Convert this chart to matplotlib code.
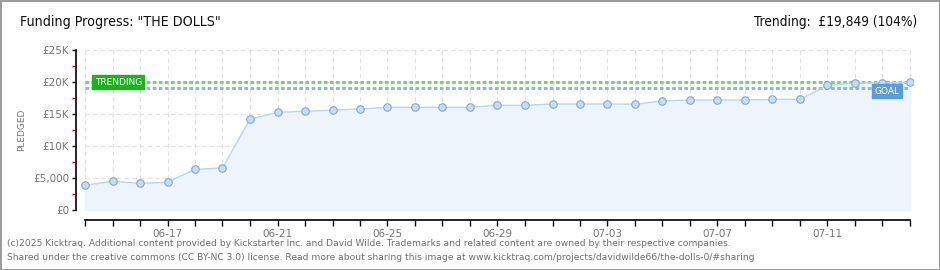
import matplotlib
matplotlib.use("Agg")
import matplotlib.pyplot as plt
from matplotlib.patches import Rectangle
import numpy as np

# daily pledged totals (GBP), 06-14 .. 07-14
dates = ["06-14", "06-15", "06-16", "06-17", "06-18", "06-19", "06-20", "06-21",
         "06-22", "06-23", "06-24", "06-25", "06-26", "06-27", "06-28", "06-29",
         "06-30", "07-01", "07-02", "07-03", "07-04", "07-05", "07-06", "07-07",
         "07-08", "07-09", "07-10", "07-11", "07-12", "07-13", "07-14"]
pledged = [3860, 4480, 4170, 4320, 6350, 6560, 14170, 15260,
           15420, 15600, 15780, 16040, 16040, 16040, 16040, 16350,
           16350, 16560, 16560, 16560, 16520, 17030, 17190, 17190,
           17190, 17290, 17290, 19480, 19840, 19840, 19950]
goal = 19085
trending = 19849
yticks = [0, 5000, 10000, 15000, 20000, 25000]
ytick_labels = ["£0", "£5,000", "£10K", "£15K", "£20K", "£25K"]

W, H = 940, 270
fig = plt.figure(figsize=(W / 100, H / 100), dpi=100)
fig.patch.set_facecolor("white")

# outer border
fig.add_artist(Rectangle((0.5 / W, 0.5 / H), 1 - 1.0 / W, 1 - 1.0 / H, transform=fig.transFigure,
                         fill=False, edgecolor="#8a8a8a", linewidth=1.2))

ax = fig.add_axes([76 / W, 60 / H, (913 - 76) / W, 160 / H])
x = np.arange(len(pledged))
ax.set_xlim(-9 / 27.5, 30 + 3 / 27.5)
ax.set_ylim(0, 25000)

# grid
for xi in x:
    ax.axvline(xi, color="#e2e2e2", lw=0.8, ls=(0, (4, 3)), zorder=0)
for yv in yticks[1:]:
    ax.plot([0, 30], [yv, yv], color="#e2e2e2", lw=0.8, ls=(0, (4, 3)), zorder=0)

ax.fill_between(x, pledged, 0, color="#eef4fc", zorder=1)
ax.plot(x, pledged, color="#b8d6f3", lw=1, zorder=3)
ax.plot(x, pledged, ls="none", marker="o", ms=5.4, mfc="#c4ddf7", mec="#8aa7c9", mew=0.8, zorder=4)

# trending / goal lines
ax.plot([0, 30], [trending + 150, trending + 150], color="#7dcf7d", lw=2.2, ls=(0, (1.2, 0.8)), zorder=2)
ax.plot([0, 30], [goal, goal], color="#8fb5e3", lw=2.2, ls=(0, (1.2, 0.8)), zorder=2)

ax.text(0.35, trending + 150, "TRENDING", color="white", fontsize=6.5, va="center", ha="left",
        family="DejaVu Sans", zorder=6,
        bbox=dict(boxstyle="square,pad=0.25", fc="#18b418", ec="#18b418"))
ax.text(28.7, goal - 500, "GOAL", color="white", fontsize=6.5, va="center", ha="left",
        family="DejaVu Sans", zorder=6,
        bbox=dict(boxstyle="square,pad=0.3", fc="#5e9bda", ec="#5e9bda"))

# spines
for s in ["top", "right"]:
    ax.spines[s].set_visible(False)
ax.spines["left"].set_bounds(0, 25000)
ax.spines["left"].set_linewidth(1.2)
ax.spines["bottom"].set_position(("outward", 7.5))
ax.spines["bottom"].set_bounds(0, 30)
ax.spines["bottom"].set_linewidth(1.2)

ax.set_yticks(yticks)
ax.set_yticklabels(ytick_labels, fontsize=7.5, color="#777777")
ax.set_yticks(np.arange(2500, 25000, 5000), minor=True)
ax.tick_params(axis="y", which="major", length=3, width=1, color="black", pad=2)
ax.tick_params(axis="y", which="minor", length=3, width=1, color="#e00000")

ax.set_xticks(x)
ax.set_xticklabels([d if i % 4 == 3 else "" for i, d in enumerate(dates)], fontsize=7.5, color="#777777")
ax.tick_params(axis="x", length=4, width=1, color="black", pad=2)

ax.set_ylabel("PLEDGED", fontsize=6.5, color="#777777", labelpad=5)

fig.text(20 / W, 1 - 22 / H, 'Funding Progress: "THE DOLLS"', fontsize=10.2, va="center", ha="left",
         color="#111111", fontstretch="condensed")
fig.text(917 / W, 1 - 22 / H, "Trending:  £19,849 (104%)", fontsize=9.8, va="center", ha="right",
         color="#111111", fontstretch="condensed")

foot = ("(c)2025 Kicktraq. Additional content provided by Kickstarter Inc. and David Wilde. "
        "Trademarks and related content are owned by their respective companies.")
foot2 = ("Shared under the creative commons (CC BY-NC 3.0) license. Read more about sharing this image at "
         "www.kicktraq.com/projects/davidwilde66/the-dolls-0/#sharing")
fig.text(7 / W, 1 - 243 / H, foot, fontsize=6.6, color="#707070", va="center", ha="left")
fig.text(7 / W, 1 - 257 / H, foot2, fontsize=6.6, color="#707070", va="center", ha="left")

fig.savefig("out.png", dpi=100, facecolor="white")
